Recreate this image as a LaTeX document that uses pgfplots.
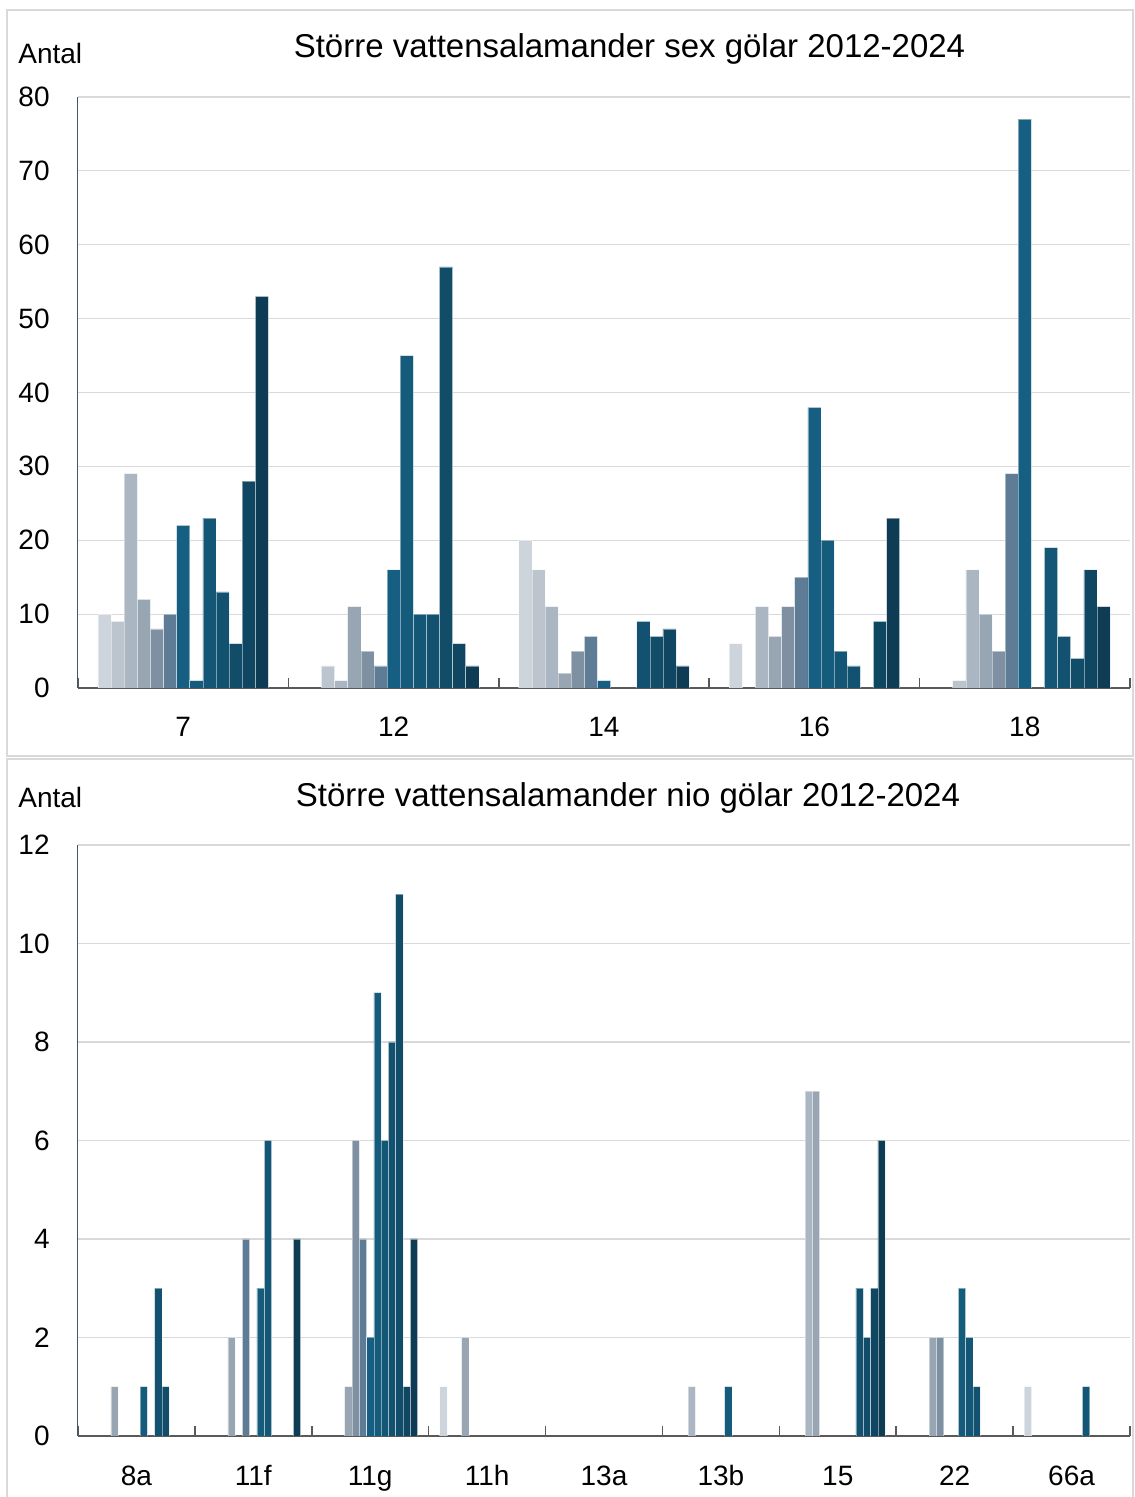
\documentclass[border=0pt]{standalone}
\usepackage{fontspec}
\setmainfont{Liberation Sans}
\usepackage{pgfplots}
\usepackage{pgfplotstable}
\pgfplotsset{compat=1.18}

\definecolor{c0}{HTML}{CED4DB}
\definecolor{c1}{HTML}{BCC5CE}
\definecolor{c2}{HTML}{AAB6C1}
\definecolor{c3}{HTML}{98A6B4}
\definecolor{c4}{HTML}{7E90A2}
\definecolor{c5}{HTML}{5E7C95}
\definecolor{c6}{HTML}{165F82}
\definecolor{c7}{HTML}{155B7C}
\definecolor{c8}{HTML}{135676}
\definecolor{c9}{HTML}{125270}
\definecolor{c10}{HTML}{114D69}
\definecolor{c11}{HTML}{0F4662}
\definecolor{c12}{HTML}{0D3C54}
\definecolor{axisgray}{HTML}{595959}
\definecolor{framegray}{HTML}{D9D9D9}
\definecolor{yaxcol}{HTML}{44546A}

% rows: ponds; columns: years 2012..2024 (y0..y12)
\pgfplotstableread{
g y0 y1 y2 y3 y4 y5 y6 y7 y8 y9 y10 y11 y12
0 10  9 29 12  8 10 22  1 23 13  6 28 53
1  0  3  1 11  5  3 16 45 10 10 57  6  3
2 20 16 11  2  5  7  1  0  0  9  7  8  3
3  6  0 11  7 11 15 38 20  5  3  0  9 23
4  0  1 16 10  5 29 77  0 19  7  4 16 11
}\sexgolar

\pgfplotstableread{
g y0 y1 y2 y3 y4 y5 y6 y7 y8 y9 y10 y11 y12
0 0 0 0 1 0 0 0 1 0 3  1 0 0
1 0 0 0 2 0 4 0 3 6 0  0 0 4
2 0 0 0 1 6 4 2 9 6 8 11 1 4
3 1 0 0 2 0 0 0 0 0 0  0 0 0
4 0 0 0 0 0 0 0 0 0 0  0 0 0
5 0 0 1 0 0 0 0 1 0 0  0 0 0
6 0 0 7 7 0 0 0 0 0 3  2 3 6
7 0 0 0 2 2 0 0 3 2 1  0 0 0
8 1 0 0 0 0 0 0 0 1 0  0 0 0
}\niogolar

\pgfplotsset{
  panel/.style={
    scale only axis,
    width=526pt, height=295.5pt,
    anchor=south west,
    ybar=0pt,
    ymin=0,
    enlarge x limits=false,
    axis x line*=bottom,
    axis y line*=left,
    x axis line style={draw=axisgray, line width=1pt},
    y axis line style={draw=yaxcol, line width=0.5pt},
    ymajorgrids,
    grid style={draw=framegray, line width=0.6pt},
    tick align=inside,
    major tick length=5pt,
    xtick style={draw=axisgray, line width=0.8pt},
    ytick style={draw=none},
    xticklabels={},
    extra x tick style={major tick length=0pt},
    tick label style={font=\fontsize{14}{16}\selectfont},
    yticklabel style={anchor=east, inner sep=0pt, xshift=-14pt},
    xticklabel style={anchor=base, inner sep=0pt, yshift=-24.5pt},
    /pgf/number format/assume math mode=true,
    y filter/.expression={y==0 ? nan : y},
    unbounded coords=discard,
  },
}

\begin{document}
\begin{tikzpicture}
\useasboundingbox (0,0) rectangle (567pt,748.5pt);
% panel frames
\draw[framegray, line width=0.75pt] (3.5pt,370.5pt) rectangle (566.6pt,743.5pt);
\draw[framegray, line width=0.75pt] (3.5pt,-2pt) -- (3.5pt,369pt) -- (566.6pt,369pt) -- (566.6pt,-2pt);

% top panel
\begin{axis}[panel,
  at={(39pt,404.5pt)},
  bar width=6.555pt,
  xmin=-0.5, xmax=4.5,
  xtick={-0.5,0.5,...,4.5},
  extra x ticks={0,1,2,3,4},
  extra x tick labels={7,12,14,16,18},
  ymax=80, ytick={0,10,...,80},
]
\pgfplotsinvokeforeach{0,...,12}{
  \addplot[fill=c#1, draw=white, draw opacity=0.45, line width=0.3pt] table[x=g, y=y#1]{\sexgolar};
}
\end{axis}
\node[anchor=base west, inner sep=0pt, font=\fontsize{14}{16}\selectfont] at (9pt,716.5pt) {Antal};
\node[anchor=base, inner sep=0pt, font=\fontsize{16.5}{19}\selectfont] at (314.75pt,719.5pt) {Större vattensalamander sex gölar 2012-2024};

% bottom panel
\begin{axis}[panel,
  at={(39pt,30.5pt)},
  bar width=3.642pt,
  xmin=-0.5, xmax=8.5,
  xtick={-0.5,0.5,...,8.5},
  extra x ticks={0,1,2,3,4,5,6,7,8},
  extra x tick labels={8a,11f,11g,11h,13a,13b,15,22,66a},
  ymax=12, ytick={0,2,...,12},
]
\pgfplotsinvokeforeach{0,...,12}{
  \addplot[fill=c#1, draw=white, draw opacity=0.45, line width=0.3pt] table[x=g, y=y#1]{\niogolar};
}
\end{axis}
\node[anchor=base west, inner sep=0pt, font=\fontsize{14}{16}\selectfont] at (9pt,344.5pt) {Antal};
\node[anchor=base, inner sep=0pt, font=\fontsize{16.5}{19}\selectfont] at (314pt,345pt) {Större vattensalamander nio gölar 2012-2024};
\end{tikzpicture}
\end{document}
